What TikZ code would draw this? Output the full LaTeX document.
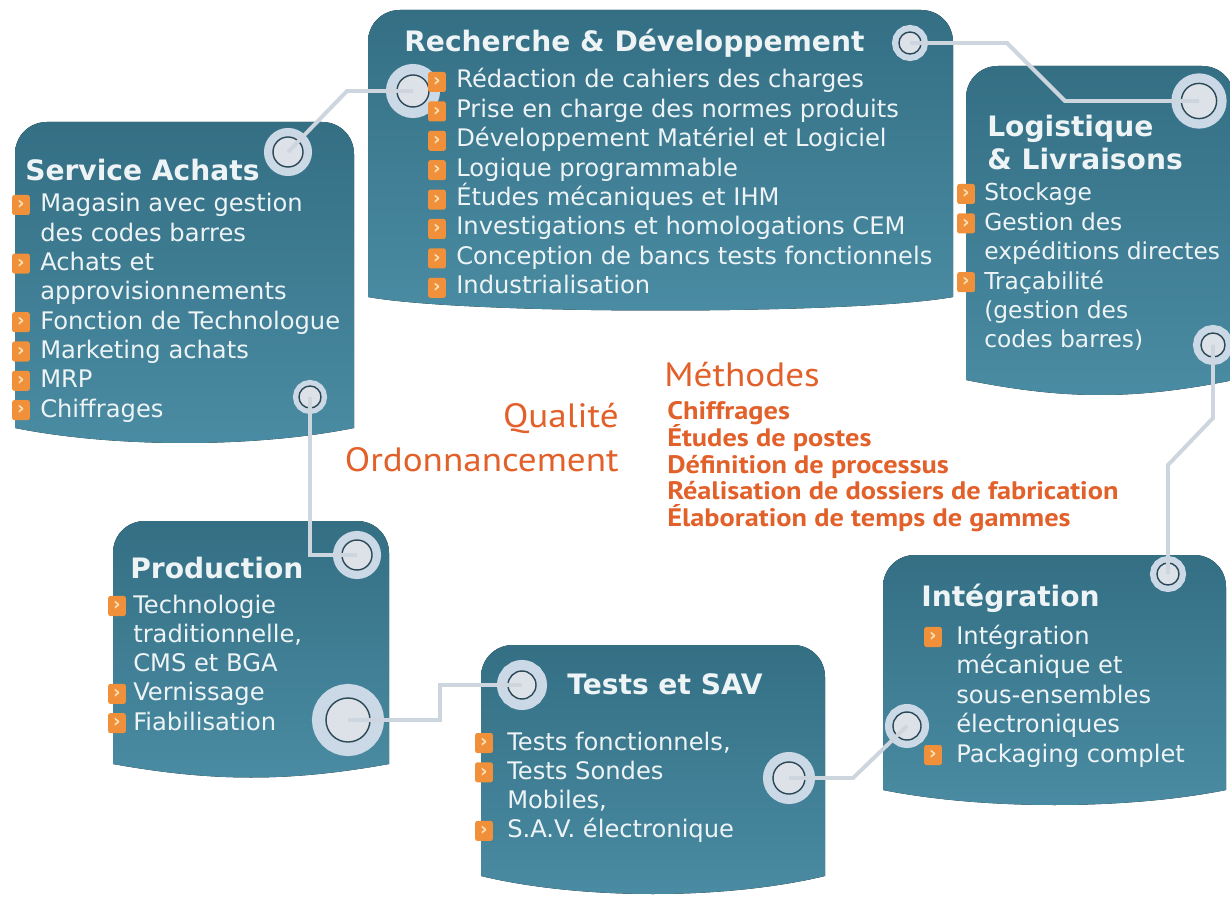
\documentclass[tikz,border=0pt]{standalone}
\usepackage{fontspec}
\setmainfont{DejaVu Sans}
\newfontfamily\orfont[FakeStretch=1.1]{PT Sans}
\newfontfamily\orbold[FakeStretch=1.12]{PT Sans Bold}
\usepackage{xcolor}

\definecolor{panelA}{HTML}{346F84}
\definecolor{panelB}{HTML}{4A8CA3}
\definecolor{ringlight}{HTML}{CBD8E5}
\definecolor{ringcore}{HTML}{DDE1E8}
\definecolor{ringdark}{HTML}{2B4856}
\definecolor{linkgray}{HTML}{CDD5DF}
\definecolor{paneltext}{HTML}{EEF4F6}
\definecolor{orangetxt}{HTML}{E2602A}
\definecolor{bulorange}{HTML}{F0903A}
\definecolor{bulchev}{HTML}{FFE2B8}

\tikzset{
  panel/.style={top color=panelA, bottom color=panelB},
  ptitle/.style={anchor=base west, inner sep=0pt, text=paneltext, font=\fontsize{20}{24}\selectfont\bfseries},
  pitem/.style={anchor=base west, inner sep=0pt, text=paneltext, font=\fontsize{17.2}{20}\selectfont},
  bul/.style={fill=bulorange, rounded corners=1.5pt, minimum width=0.44cm, minimum height=0.5cm, inner sep=0pt, text=bulchev, font=\fontsize{13}{13}\selectfont\bfseries},
  ring/.style={circle, inner sep=0pt, fill=ringcore, draw=ringdark, line width=1pt, preaction={draw=ringlight, line width=#1}},
  link/.style={draw=linkgray, line width=2.8pt},
  ortitle/.style={inner sep=0pt, text=orangetxt, font=\orfont\fontsize{24}{28}\selectfont},
  oritem/.style={anchor=base west, inner sep=0pt, text=orangetxt, font=\orbold\fontsize{18}{22}\selectfont}
}

% left, top, right, bottom, dip
\newcommand{\panelshape}[5]{%
  \fill[panel] (#1,#4) -- (#1,#2+32) .. controls (#1,#2+14) and (#1+14,#2) .. (#1+32,#2)
    -- (#3-32,#2) .. controls (#3-14,#2) and (#3,#2+14) .. (#3,#2+32)
    -- (#3,#4) .. controls (#3-100,#4+#5) and (#1+100,#4+#5) .. (#1,#4) -- cycle;}

\begin{document}
\begin{tikzpicture}[x=0.025cm,y=-0.025cm]
\useasboundingbox (0,0) rectangle (1230,898);

% panels
\panelshape{15}{122}{354}{428}{20}
\panelshape{368}{10}{953}{297}{18}
\panelshape{966}{66}{1234}{380}{20}
\panelshape{113}{521}{389}{764}{18}
\panelshape{481}{645}{825}{876}{24}
\panelshape{883}{555}{1226}{790}{20}

% rings
\node[ring=0.45cm, minimum size=0.75cm] (saT) at (288,152) {};
\node[ring=0.3cm, minimum size=0.55cm] (saB) at (310,397) {};
\node[ring=0.55cm, minimum size=0.8cm] (rdL) at (413,91) {};
\node[ring=0.35cm, minimum size=0.55cm] (rdR) at (910,43) {};
\node[ring=0.5cm, minimum size=0.88cm] (lgT) at (1199,101) {};
\node[ring=0.4cm, minimum size=0.6cm] (lgB) at (1213,345) {};
\node[ring=0.45cm, minimum size=0.75cm] (prT) at (357,555) {};
\node[ring=0.7cm, minimum size=1.1cm] (prB) at (348,720) {};
\node[ring=0.55cm, minimum size=0.7cm] (tsL) at (522,685) {};
\node[ring=0.5cm, minimum size=0.8cm] (tsR) at (789,778) {};
\node[ring=0.35cm, minimum size=0.55cm] (inT) at (1168,574) {};
\node[ring=0.4cm, minimum size=0.7cm] (inL) at (907,726) {};

% links
\draw[link] (saT.center) -- (347,91) -- (rdL.center);
\draw[link] (rdR.center) -- (1007,43) -- (1065,101) -- (lgT.center);
\draw[link] (lgB.center) -- (1213,418) -- (1168,465) -- (inT.center);
\draw[link] (saB.center) -- (310,555) -- (prT.center);
\draw[link] (prB.center) -- (440,720) -- (440,685) -- (tsL.center);
\draw[link] (tsR.center) -- (853,778) -- (inL.center);

% Service Achats
\node[ptitle] (sa) at (25,181) {Service Achats};
\foreach \b/\t [count=\i from 0] in {1/Magasin avec gestion, 0/des codes barres, 1/Achats et, 0/approvisionnements, 1/Fonction de Technologue, 1/Marketing achats, 1/MRP, 1/Chiffrages}{
  \node[pitem] (sa-\i) at (40,{212+29.3*\i}) {\t};
  \ifnum\b=1 \node[bul] (sab-\i) at (21,{205+29.3*\i}) {›};\fi
}

% Recherche & Developpement
\node[ptitle] (rd) at (404,52) {Recherche \& Développement};
\foreach \t [count=\i from 0] in {Rédaction de cahiers des charges, Prise en charge des normes produits, Développement Matériel et Logiciel, Logique programmable, Études mécaniques et IHM, Investigations et homologations CEM, Conception de bancs tests fonctionnels, Industrialisation}{
  \node[pitem] (rd-\i) at (456,{88+29.4*\i}) {\t};
  \node[bul] (rdb-\i) at (437,{82+29.4*\i}) {›};
}

% Logistique
\node[ptitle] (lg) at (987,137) {Logistique};
\node[ptitle] (lg2) at (987,170) {\& Livraisons};
\foreach \b/\t [count=\i from 0] in {1/Stockage, 1/Gestion des, 0/expéditions directes, 1/Traçabilité, 0/(gestion des, 0/codes barres)}{
  \node[pitem, font=\fontsize{16.6}{20}\selectfont] (lg-\i) at (984,{201+29.4*\i}) {\t};
  \ifnum\b=1 \node[bul] (lgb-\i) at (966,{194+29.4*\i}) {›};\fi
}

% Production
\node[ptitle] (pr) at (130,578) {Production};
\foreach \b/\t [count=\i from 0] in {1/Technologie, 0/{traditionnelle,}, 0/CMS et  BGA, 1/Vernissage, 1/Fiabilisation}{
  \node[pitem] (pr-\i) at (133,{613+29.3*\i}) {\t};
  \ifnum\b=1 \node[bul] (prb-\i) at (117,{606+29.3*\i}) {›};\fi
}

% Tests et SAV
\node[ptitle] (ts) at (567,694) {Tests et SAV};
\foreach \b/\t [count=\i from 0] in {1/{Tests fonctionnels,}, 1/Tests Sondes, 0/{Mobiles,}, 1/S.A.V. électronique}{
  \node[pitem] (ts-\i) at (507,{750+29.3*\i}) {\t};
  \ifnum\b=1 \node[bul] (tsb-\i) at (484,{743+29.3*\i}) {›};\fi
}

% Integration
\node[ptitle] (in) at (921,606) {Intégration};
\foreach \b/\t [count=\i from 0] in {1/Intégration, 0/mécanique et, 0/sous-ensembles, 0/électroniques, 1/Packaging complet}{
  \node[pitem] (in-\i) at (956,{644+29.5*\i}) {\t};
  \ifnum\b=1 \node[bul] (inb-\i) at (933,{637+29.5*\i}) {›};\fi
}

% centre
\node[ortitle, anchor=base west] (methodes) at (664,387) {Méthodes};
\node[ortitle, anchor=base east] (qualite) at (619,428) {Qualité};
\node[ortitle, anchor=base east] (ordo) at (619,472) {Ordonnancement};
\foreach \t [count=\i from 0] in {Chiffrages, Études de postes, Définition de processus, Réalisation de dossiers de fabrication, Élaboration de temps de gammes}{
  \node[oritem] (me-\i) at (667,{420+26.5*\i}) {\t};
}
\end{tikzpicture}
\end{document}
